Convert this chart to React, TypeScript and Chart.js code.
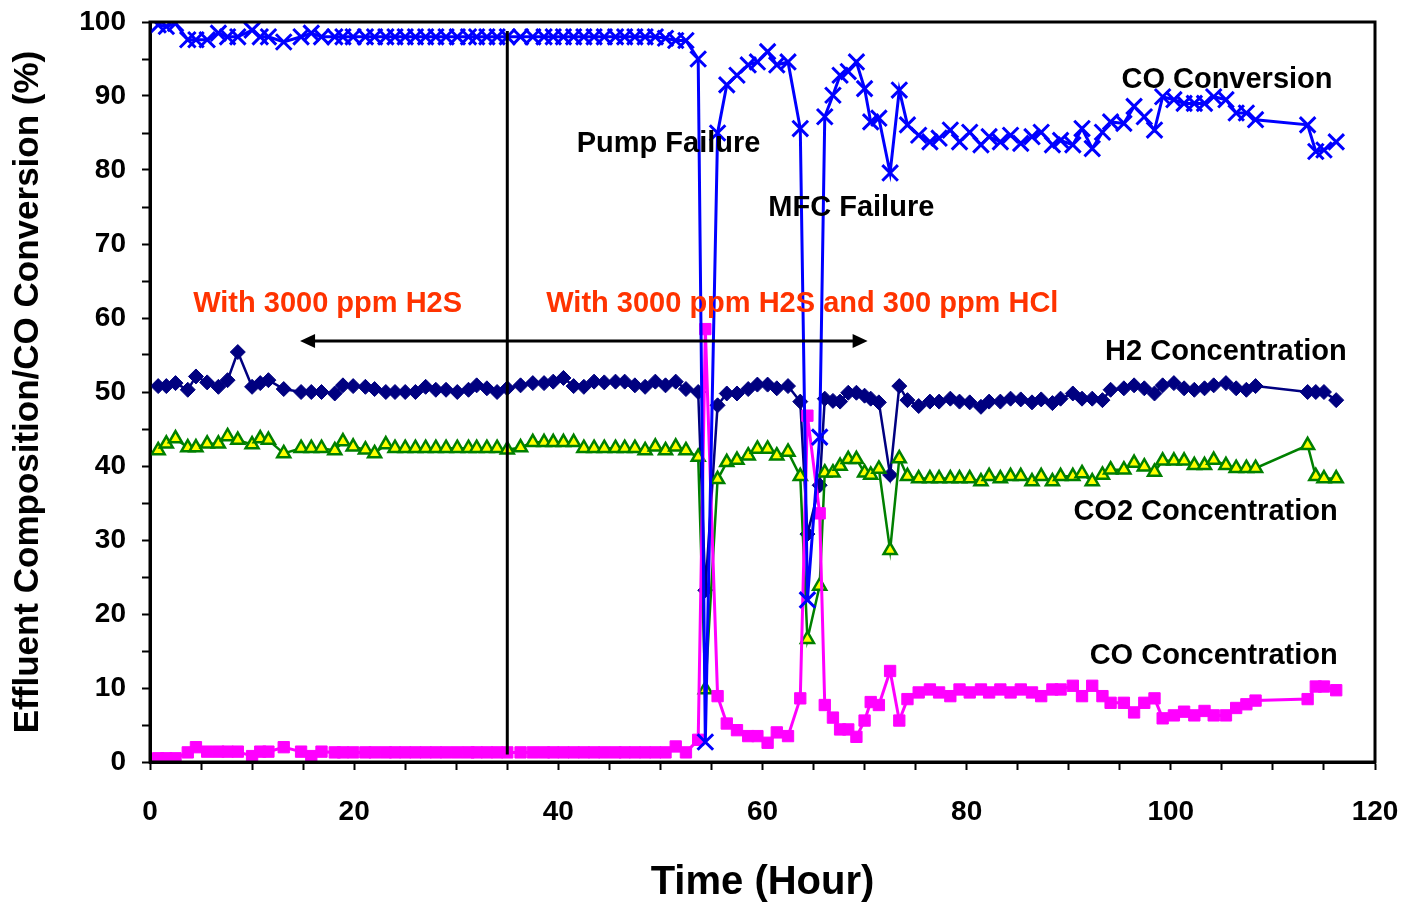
import React, { useEffect, useRef } from 'react';
import { Chart, registerables } from 'chart.js';

Chart.register(...registerables);

// ---- Data ----
const hours = [
  0.8, 1.6, 2.5, 3.7, 4.5, 5.6, 6.7, 7.6, 8.6, 10.0, 10.8, 11.6, 13.1, 14.8, 15.8, 16.8, 18.1, 18.9, 19.9, 21.1,
  22.0, 23.1, 24.0, 25.0, 26.0, 27.0, 28.0, 29.0, 30.1, 31.2, 32.0, 33.0, 34.0, 35.0, 36.3,
  37.5, 38.6, 39.5, 40.5, 41.5, 42.5, 43.5, 44.5, 45.6, 46.5, 47.5, 48.5, 49.5, 50.5, 51.5, 52.5, 53.7,
  54.4, 55.6, 56.5, 57.5, 58.6, 59.5, 60.5, 61.4, 62.5, 63.7,
  64.4, 65.6, 66.1, 66.9, 67.6, 68.4, 69.2, 70.0, 70.6, 71.4, 72.5,
  73.4, 74.2, 75.3, 76.4, 77.3, 78.4, 79.3, 80.3, 81.4, 82.2, 83.3, 84.3, 85.3, 86.4, 87.3, 88.4, 89.2, 90.4,
  91.3, 92.3, 93.3, 94.1, 95.4, 96.4, 97.4, 98.4, 99.2, 100.3, 101.3, 102.3, 103.3, 104.2, 105.4, 106.4, 107.4, 108.3,
  113.4, 114.2, 115.0, 116.2,
];

const h2Concentration = [
  50.8, 50.8, 51.2, 50.3, 52.1, 51.3, 50.7, 51.6, 55.4, 50.7, 51.2, 51.6, 50.4, 50.0, 50.0, 50.0, 49.8, 50.9, 50.8, 50.7,
  50.4, 50.0, 50.0, 50.0, 50.0, 50.7, 50.3, 50.3, 50.0, 50.3, 50.9, 50.5, 50.0, 50.5, 50.9,
  51.2, 51.2, 51.4, 51.9, 50.8, 50.7, 51.4, 51.3, 51.4, 51.4, 50.9, 50.7, 51.4, 50.9, 51.4, 50.4, 50.0,
  23.2, 48.2, 49.8, 49.8, 50.4, 51.0, 51.0, 50.5, 50.8, 48.7,
  30.8, 37.4, 49.1, 48.8, 48.7, 49.9, 49.9, 49.5, 49.1, 48.6, 38.8,
  50.8, 48.9, 48.1, 48.7, 48.7, 49.1, 48.7, 48.6, 48.0, 48.7, 48.7, 49.1, 49.0, 48.6, 49.0, 48.5, 49.1, 49.8,
  49.1, 49.1, 48.9, 50.3, 50.5, 50.9, 50.5, 49.8, 50.9, 51.2, 50.5, 50.3, 50.5, 50.9, 51.2, 50.5, 50.3, 50.8,
  50.0, 50.0, 50.0, 48.9,
];

const co2Concentration = [
  42.1, 43.0, 43.7, 42.5, 42.5, 43.0, 43.0, 44.0, 43.5, 42.9, 43.7, 43.5, 41.7, 42.4, 42.4, 42.4, 42.1, 43.3, 42.6, 42.2,
  41.7, 42.9, 42.4, 42.4, 42.4, 42.4, 42.4, 42.4, 42.4, 42.4, 42.4, 42.4, 42.4, 42.2, 42.5,
  43.2, 43.2, 43.2, 43.2, 43.2, 42.4, 42.4, 42.4, 42.4, 42.4, 42.4, 42.1, 42.6, 42.1, 42.6, 42.1, 41.2,
  9.8, 38.2, 40.5, 40.8, 41.4, 42.3, 42.3, 41.4, 41.9, 38.6,
  16.6, 23.8, 39.1, 39.1, 40.0, 40.9, 40.9, 39.1, 38.8, 39.6, 28.6,
  41.0, 38.6, 38.3, 38.3, 38.3, 38.3, 38.3, 38.3, 37.9, 38.6, 38.3, 38.6, 38.6, 37.9, 38.6, 37.9, 38.6, 38.6,
  39.0, 37.9, 38.8, 39.5, 39.5, 40.4, 39.9, 39.2, 40.7, 40.7, 40.7, 40.1, 40.1, 40.8, 40.1, 39.7, 39.7, 39.7,
  42.8, 38.6, 38.3, 38.3,
];

const coConcentration = [
  0.5, 0.5, 0.5, 1.3, 2.0, 1.4, 1.4, 1.4, 1.4, 0.8, 1.4, 1.4, 2.0, 1.4, 0.8, 1.4, 1.3, 1.3, 1.3, 1.3,
  1.3, 1.3, 1.3, 1.3, 1.3, 1.3, 1.3, 1.3, 1.3, 1.3, 1.3, 1.3, 1.3, 1.3, 1.3,
  1.3, 1.3, 1.3, 1.3, 1.3, 1.3, 1.3, 1.3, 1.3, 1.3, 1.3, 1.3, 1.3, 1.3, 2.1, 1.3, 3.0,
  58.5, 8.9, 5.2, 4.3, 3.5, 3.5, 2.6, 4.0, 3.5, 8.6,
  46.8, 33.6, 7.7, 6.0, 4.4, 4.4, 3.4, 5.6, 8.1, 7.7, 12.3,
  5.6, 8.5, 9.4, 9.8, 9.4, 8.9, 9.8, 9.4, 9.8, 9.4, 9.8, 9.4, 9.8, 9.4, 8.9, 9.8, 9.8, 10.3,
  8.9, 10.3, 8.9, 8.0, 8.0, 6.7, 8.0, 8.6, 5.9, 6.3, 6.8, 6.3, 6.9, 6.3, 6.3, 7.3, 7.8, 8.3,
  8.5, 10.2, 10.2, 9.7,
];

const coConversion = [
  99.6, 99.4, 99.8, 97.6, 97.6, 97.6, 98.5, 98.0, 98.0, 98.9, 98.0, 98.0, 97.3, 98.0, 98.5, 98.0, 98.0, 98.0, 98.0, 98.0,
  98.0, 98.0, 98.0, 98.0, 98.0, 98.0, 98.0, 98.0, 98.0, 98.0, 98.0, 98.0, 98.0, 98.0, 98.0,
  98.0, 98.0, 98.0, 98.0, 98.0, 98.0, 98.0, 98.0, 98.0, 98.0, 98.0, 98.0, 98.0, 97.8, 97.5, 97.5, 95.0,
  2.7, 85.0, 91.5, 92.8, 94.2, 94.6, 96.0, 94.2, 94.6, 85.6,
  21.9, 43.9, 87.2, 90.1, 92.8, 93.3, 94.6, 91.0, 86.5, 87.0, 79.6,
  90.8, 86.1, 84.7, 83.8, 84.3, 85.4, 83.8, 85.1, 83.4, 84.5, 83.8, 84.7, 83.6, 84.5, 85.1, 83.4, 84.0, 83.4,
  85.6, 82.9, 85.1, 86.5, 86.3, 88.6, 87.2, 85.4, 89.9, 89.5, 89.0, 89.0, 89.0, 89.9, 89.5, 87.7, 87.7, 86.8,
  86.1, 82.5, 82.7, 83.8,
];

// Axis tick labels
const xTickLabels = ['0', '20', '40', '60', '80', '100', '120'];
const yTickLabels = ['0', '10', '20', '30', '40', '50', '60', '70', '80', '90', '100'];

// Annotations (data coordinates)
const divider = { hour: 35, top: 98.8, bottom: 1.0 };
const arrow = { from: 14.7, to: 70.3, level: 56.9 };
const labelTexts = [
  'With 3000 ppm H2S',
  'With 3000 ppm H2S and 300 ppm HCl',
  'Pump Failure',
  'MFC Failure',
  'CO Conversion',
  'H2 Concentration',
  'CO2 Concentration',
  'CO Concentration',
];
const labelHours = [17.4, 63.9, 50.8, 68.7, 105.5, 105.4, 103.4, 104.2];
const labelLevels = [61.9, 61.9, 83.5, 74.9, 92.2, 55.4, 33.8, 14.3];
const labelColors = ['#FF3300', '#FF3300', '#000', '#000', '#000', '#000', '#000', '#000'];

const FONT = '"Liberation Sans", Arial, Helvetica, sans-serif';

const toPoints = (vals: number[]) => hours.map((h, i) => ({ x: h, y: vals[i] }));

const overlayPlugin = {
  id: 'overlay',
  afterDatasetsDraw(chart: any) {
    const { ctx, chartArea } = chart;
    const xs = chart.scales.x;
    const ys = chart.scales.y;
    ctx.save();
    // divider line
    ctx.strokeStyle = '#000';
    ctx.lineWidth = 3;
    const dx = xs.getPixelForValue(divider.hour);
    ctx.beginPath();
    ctx.moveTo(dx, ys.getPixelForValue(divider.top));
    ctx.lineTo(dx, ys.getPixelForValue(divider.bottom));
    ctx.stroke();
    // double arrow
    const ay = ys.getPixelForValue(arrow.level);
    const a1 = xs.getPixelForValue(arrow.from);
    const a2 = xs.getPixelForValue(arrow.to);
    ctx.beginPath();
    ctx.moveTo(a1 + 8, ay);
    ctx.lineTo(a2 - 8, ay);
    ctx.stroke();
    ctx.fillStyle = '#000';
    ctx.beginPath();
    ctx.moveTo(a1, ay);
    ctx.lineTo(a1 + 15, ay - 7);
    ctx.lineTo(a1 + 15, ay + 7);
    ctx.closePath();
    ctx.fill();
    ctx.beginPath();
    ctx.moveTo(a2, ay);
    ctx.lineTo(a2 - 15, ay - 7);
    ctx.lineTo(a2 - 15, ay + 7);
    ctx.closePath();
    ctx.fill();
    // text labels
    ctx.font = `bold 29px ${FONT}`;
    ctx.textAlign = 'center';
    ctx.textBaseline = 'middle';
    labelTexts.forEach((t, i) => {
      ctx.fillStyle = labelColors[i];
      ctx.fillText(t, xs.getPixelForValue(labelHours[i]), ys.getPixelForValue(labelLevels[i]));
    });
    // frame
    ctx.strokeStyle = '#000';
    ctx.lineWidth = 3;
    ctx.strokeRect(chartArea.left, chartArea.top, chartArea.right - chartArea.left, chartArea.bottom - chartArea.top);
    ctx.restore();
  },
};

export default function App() {
  const ref = useRef<HTMLCanvasElement | null>(null);

  useEffect(() => {
    if (!ref.current) return;
    const chart = new Chart(ref.current, {
      type: 'line',
      data: {
        datasets: [
          {
            label: 'CO Conversion',
            data: toPoints(coConversion),
            borderColor: '#0000FF',
            backgroundColor: '#0000FF',
            borderWidth: 3,
            pointStyle: 'crossRot',
            pointRadius: 11,
            pointBorderWidth: 3,
            pointBorderColor: '#0000FF',
            tension: 0,
          },
          {
            label: 'CO Concentration',
            data: toPoints(coConcentration),
            borderColor: '#FF00FF',
            backgroundColor: '#FF00FF',
            borderWidth: 3,
            pointStyle: 'rect',
            pointRadius: 8,
            pointBorderWidth: 1,
            pointBorderColor: '#FF00FF',
            pointBackgroundColor: '#FF00FF',
            tension: 0,
          },
          {
            label: 'CO2 Concentration',
            data: toPoints(co2Concentration),
            borderColor: '#008000',
            backgroundColor: '#FFFF00',
            borderWidth: 2.5,
            pointStyle: 'triangle',
            pointRadius: 7.5,
            pointBorderWidth: 2.5,
            pointBorderColor: '#008000',
            pointBackgroundColor: '#FFFF00',
            tension: 0,
          },
          {
            label: 'H2 Concentration',
            data: toPoints(h2Concentration),
            borderColor: '#000080',
            backgroundColor: '#000080',
            borderWidth: 2.5,
            pointStyle: 'rectRot',
            pointRadius: 7.5,
            pointBorderWidth: 1,
            pointBorderColor: '#000080',
            pointBackgroundColor: '#000080',
            tension: 0,
          },
        ],
      },
      options: {
        animation: false,
        responsive: false,
        devicePixelRatio: 1,
        layout: { autoPadding: false, padding: { top: 22, right: 29, left: 0, bottom: 0 } },
        plugins: {
          legend: { display: false },
          tooltip: { enabled: false },
        },
        scales: {
          x: {
            type: 'linear',
            min: 0,
            max: 120,
            afterFit: (s: any) => {
              s.height = 145;
              s.paddingLeft = 0;
              s.paddingRight = 0;
            },
            ticks: {
              stepSize: 5,
              autoSkip: false,
              maxRotation: 0,
              padding: 25,
              color: '#000',
              font: { family: FONT, size: 28, weight: 'bold' },
              callback: (v: any) => {
                const s = String(v);
                return xTickLabels.includes(s) && Number(v) % 20 === 0 ? s : '';
              },
            },
            grid: {
              drawOnChartArea: false,
              drawTicks: true,
              tickLength: 8,
              tickWidth: 2,
              tickColor: '#000',
            },
            border: { display: true, color: '#000', width: 3 },
            title: {
              display: true,
              text: 'Time (Hour)',
              color: '#000',
              font: { family: FONT, size: 40, weight: 'bold' },
              padding: { top: 0, bottom: 0 },
            },
          },
          y: {
            type: 'linear',
            min: 0,
            max: 100,
            afterFit: (s: any) => {
              s.width = 150;
              s.paddingTop = 0;
              s.paddingBottom = 0;
            },
            ticks: {
              stepSize: 5,
              autoSkip: false,
              padding: 16,
              color: '#000',
              font: { family: FONT, size: 28, weight: 'bold' },
              callback: (v: any) => {
                const s = String(v);
                return yTickLabels.includes(s) && Number(v) % 10 === 0 ? s : '';
              },
            },
            grid: {
              drawOnChartArea: false,
              drawTicks: true,
              tickLength: 8,
              tickWidth: 2,
              tickColor: '#000',
            },
            border: { display: true, color: '#000', width: 3 },
            title: {
              display: true,
              text: 'Effluent Composition/CO Conversion (%)',
              color: '#000',
              font: { family: FONT, size: 35, weight: 'bold' },
              padding: { top: 7, bottom: 0 },
            },
          },
        },
      },
      plugins: [overlayPlugin],
    } as any);
    return () => chart.destroy();
  }, []);

  return (
    <div style={{ position: 'absolute', left: 0, top: 0, width: 1404, height: 907, background: '#fff' }}>
      <canvas ref={ref} width={1404} height={907} style={{ width: 1404, height: 907, display: 'block' }} />
    </div>
  );
}
